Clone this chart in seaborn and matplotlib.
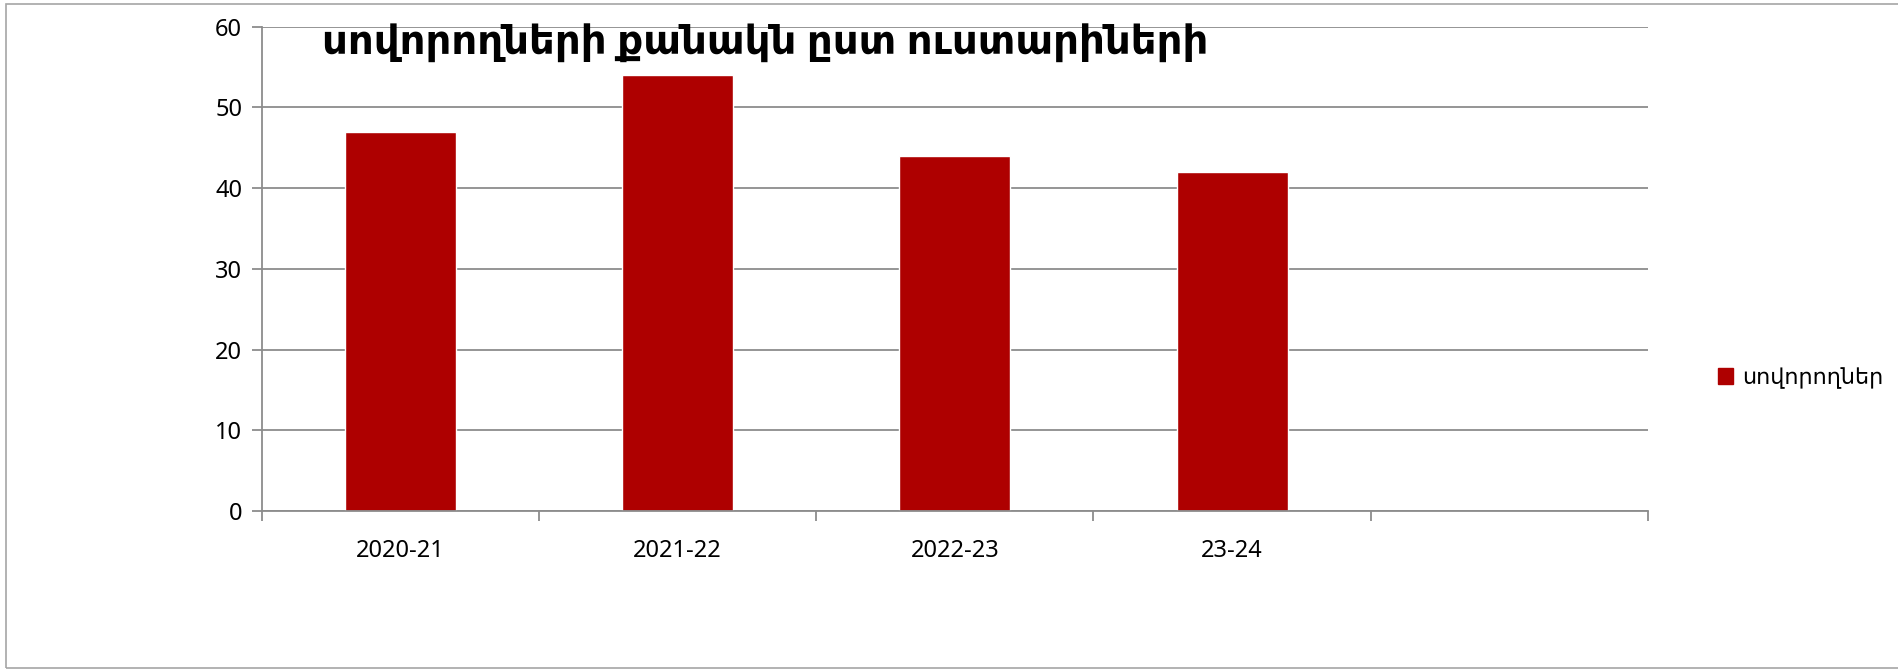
import matplotlib
matplotlib.use("Agg")
import matplotlib.pyplot as plt
import matplotlib.patches as mpatches
import seaborn as sns
import pandas as pd

# chart data
years = ['2020-21', '2021-22', '2022-23', '23-24']
students = [47, 54, 44, 42]
series_name = 'սովորողներ'
title_text = 'սովորողների քանակն ըստ ուստարիների'
bar_color = '#AE0000'
grid_color = '#8C8C8C'

sns.set_theme(style="white")
plt.rcParams['font.family'] = ['Noto Sans', 'DejaVu Sans']

df = pd.DataFrame({'year': years, 'count': students})

fig = plt.figure(figsize=(18.99, 6.70), dpi=100)
ax = fig.add_axes([0.1378, 0.2373, 0.7300, 0.7230])

sns.barplot(data=df, x='year', y='count', color=bar_color, width=0.4,
            saturation=1, ax=ax)

# five category slots, the last one empty
n_slots = 5
ax.set_xlim(-0.5, n_slots - 0.5)
ax.set_ylim(0, 60)
ax.set_yticks(range(0, 61, 10))
ax.set_xticks([i - 0.5 for i in range(n_slots + 1)])
ax.set_xticklabels([])
ax.set_xticks(range(len(years)), minor=True)
ax.set_xticklabels(years, minor=True)
ax.set_xlabel('')
ax.set_ylabel('')

ax.yaxis.grid(True, color=grid_color, linewidth=1.3)
ax.set_axisbelow(True)
for side in ['top', 'right']:
    ax.spines[side].set_visible(False)
for side in ['left', 'bottom']:
    ax.spines[side].set_color(grid_color)
    ax.spines[side].set_linewidth(1.3)

ax.tick_params(axis='y', which='major', direction='out', length=7, width=1.3,
               color=grid_color, labelsize=17, labelcolor='black', pad=7,
               left=True)
ax.tick_params(axis='x', which='major', direction='out', length=7, width=1.3,
               color=grid_color, bottom=True)
ax.tick_params(axis='x', which='minor', length=0, labelsize=17,
               labelcolor='black', pad=20)

fig.text(0.403, 0.935, title_text, ha='center', va='center',
         fontsize=29, fontweight='bold', color='black')

handle = mpatches.Patch(color=bar_color, label=series_name)
fig.legend(handles=[handle], loc='center left', bbox_to_anchor=(0.894, 0.436),
           frameon=False, fontsize=16, handlelength=0.7, handleheight=0.7,
           handletextpad=0.4, labelcolor='black')

# outer chart frame
fig.patches.append(mpatches.Rectangle((0.003, 0.003), 1.2, 0.991,
                                      transform=fig.transFigure, fill=False,
                                      edgecolor='#A6A6A6', linewidth=1.2))

fig.savefig('out.png', dpi=100)
